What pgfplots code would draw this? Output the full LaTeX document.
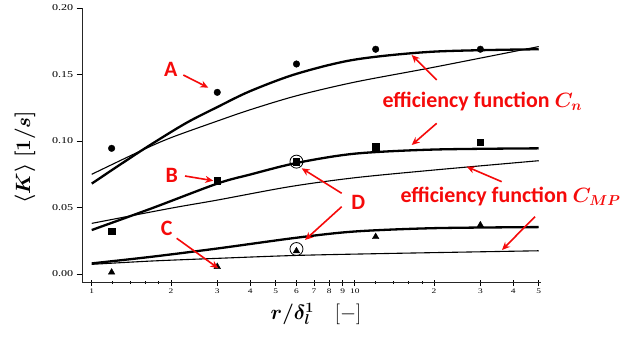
\documentclass[border=0pt]{standalone}
\usepackage{fontspec}
\setmainfont{Liberation Serif}
\newfontfamily\annfont{Carlito}
\usepackage{bm}
\usepackage{graphicx}
\usepackage{pgfplots}
\pgfplotsset{compat=1.18}
\usetikzlibrary{arrows.meta}
\definecolor{annred}{RGB}{245,10,10}
\newcommand{\wide}[1]{\scalebox{1.35}[1]{#1}}

\begin{document}
\begin{tikzpicture}
\useasboundingbox (0,0) rectangle (637bp,345bp);
\begin{axis}[
  at={(82.7bp,62.3bp)}, anchor=south west,
  scale only axis, width=458.3bp, height=274.7bp,
  xmode=log, xmin=0.924, xmax=51,
  ymin=-0.0065, ymax=0.20,
  axis x line*=bottom, axis y line*=left,
  axis line style={-, line width=1.3bp, black!85},
  clip=false,
  ytick={0,0.05,0.10,0.15,0.20},
  yticklabels={\wide{0.00},\wide{0.05},\wide{0.10},\wide{0.15},\wide{0.20}},
  xtick={1,2,3,4,5,6,7,8,9,10,20,30,40,50},
  xticklabels={\wide{1},\wide{2},\wide{3},\wide{4},\wide{5},\wide{6},\wide{7},\wide{8},\wide{9},\wide{10},\wide{2},\wide{3},\wide{4},\wide{5}},
  minor xtick={1.2,1.4,1.6,1.8,12,14,16,18},
  x tick label style={font=\fontsize{7}{8}\selectfont, yshift=0.5bp},
  y tick label style={font=\fontsize{9}{10}\selectfont},
  xtick align=center, ytick align=outside,
  major tick length=6bp, minor tick length=3bp,
  tick style={black, line width=0.8bp},
]
% fitted curves: thick = efficiency function C_n, thin = C_MP
\addplot[black, line width=2.3bp, smooth] coordinates {
  (1,0.068) (1.55,0.093) (2.26,0.113) (3,0.1255) (4,0.1375) (6,0.1505) (10,0.1612)
  (20,0.1672) (50,0.169)};
\addplot[black, line width=1.1bp, smooth] coordinates {
  (1,0.075) (1.55,0.093) (2,0.1025) (3,0.115) (4,0.1235) (6,0.134) (10,0.1443)
  (20,0.1555) (50,0.171)};
\addplot[black, line width=2.3bp, smooth] coordinates {
  (1,0.0331) (1.69,0.0494) (3,0.068) (4,0.0748) (6,0.0835) (10,0.0905) (20,0.0936)
  (50,0.0945)};
\addplot[black, line width=1.1bp, smooth] coordinates {
  (1,0.0381) (2,0.0495) (3,0.0556) (5.66,0.0657) (10,0.0724) (20,0.0782) (50,0.0852)};
\addplot[black, line width=2.3bp, smooth] coordinates {
  (1,0.008) (1.69,0.013) (3,0.0192) (6,0.0273) (10,0.032) (20,0.0345) (50,0.0353)};
\addplot[black, line width=1.1bp, smooth] coordinates {
  (1,0.0073) (1.69,0.0098) (3,0.0118) (6,0.014) (13.6,0.0155) (50,0.0175)};
% measured points
\addplot[only marks, mark=*, mark size=3.3bp, black] coordinates {
  (1.19,0.0945) (3,0.1366) (6,0.1579) (12,0.169) (30,0.169)};
\addplot[only marks, mark=square*, mark size=3.2bp, black] coordinates {
  (1.19,0.0323) (3,0.0702) (6,0.0845) (12,0.0957) (30,0.099)};
\addplot[only marks, mark=triangle*, mark size=3.8bp, black] coordinates {
  (1.19,0.0013) (3,0.0055) (6,0.0173) (12,0.028) (30,0.0368)};
% highlighted points D
\addplot[only marks, mark=o, mark size=6.5bp, black, line width=0.8bp] coordinates {
  (6,0.0845) (6,0.0188)};
\end{axis}
\begin{scope}[x=1bp, y=1bp]
  % annotation arrows
  \begin{scope}[annred, line width=1.6bp, -{Stealth[length=8bp,width=7bp]}]
    \draw (183.3,270) -- (208.3,257.3);
    \draw (185,169) -- (213.3,164.3);
    \draw (176.7,106.7) -- (218.3,76.7);
    \draw (341.7,151.7) -- (301.7,176.7);
    \draw (341.7,138.3) -- (305,105);
    \draw (436.7,265) -- (411.7,290);
    \draw (436.7,221.7) -- (411.7,200);
    \draw (501.7,163.3) -- (466.7,178.3);
    \draw (535,128.3) -- (502,95);
  \end{scope}
  % annotation texts
  \tikzset{ann/.style={annred, font=\annfont\bfseries\fontsize{22}{26}\selectfont}}
  \path (170.7,275.7) node[ann] {A};
  \path (171.7,170) node[ann] {B};
  \path (166.7,116.7) node[ann] {C};
  \path (358.3,142.3) node[ann] {D};
  \path (379,243.5) node[anchor=west, ann] {efficiency function $\bm{C_n}$};
  \path (397,148.5) node[anchor=west, ann] {efficiency function $\bm{C_{MP}}$};
  % axis titles
  \path (25,188) node[rotate=90, font=\fontsize{21}{24}\selectfont] {$\bm{\langle K\rangle\;[1/s]}$};
  \path (316,31) node[font=\fontsize{21}{24}\selectfont, inner sep=1bp] {$\bm{r/\delta_l^1}$\quad$[-]$};
\end{scope}
\end{tikzpicture}
\end{document}
